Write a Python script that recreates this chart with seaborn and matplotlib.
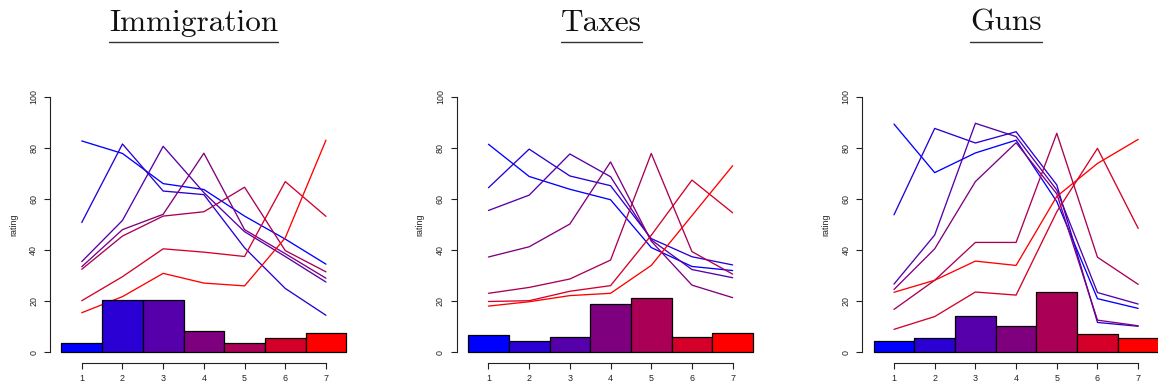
import numpy as np
import pandas as pd
import matplotlib
matplotlib.use("Agg")
import matplotlib.pyplot as plt
import seaborn as sns
from matplotlib.lines import Line2D

# Scale positions (1 = most liberal ... 7 = most conservative)
scale = [1, 2, 3, 4, 5, 6, 7]
groups = ['1', '2', '3', '4', '5', '6', '7']
colors = ['#0000FF', '#2A00D4', '#5500AA', '#7F007F', '#AA0055', '#D4002A', '#FF0000']
topics = ['Immigration', 'Taxes', 'Guns']

# Share of respondents at each position (bars)
imm_share = [3.7, 20.6, 20.6, 8.5, 3.7, 5.5, 7.7]
tax_share = [6.6, 4.3, 6.0, 18.8, 21.1, 6.0, 7.4]
gun_share = [4.3, 5.5, 14.1, 10.2, 23.7, 7.0, 5.5]

# Mean rating of each position, one row per group (lines)
imm_rating = [
    [82.7, 77.8, 66.0, 63.7, 53.3, 44.3, 34.5],
    [50.8, 81.5, 63.1, 61.7, 40.9, 25.0, 14.5],
    [35.5, 51.6, 80.6, 62.5, 47.2, 37.5, 27.5],
    [33.5, 48.0, 54.0, 77.9, 48.0, 38.6, 29.0],
    [32.5, 45.5, 53.3, 55.0, 64.6, 39.8, 31.5],
    [20.2, 29.6, 40.5, 39.2, 37.5, 66.8, 53.2],
    [15.5, 21.8, 30.9, 27.1, 26.0, 44.8, 83.0],
]
tax_rating = [
    [81.4, 68.8, 63.8, 59.7, 41.0, 33.6, 32.0],
    [64.4, 79.5, 69.0, 65.2, 44.5, 37.4, 34.2],
    [55.5, 61.5, 77.6, 68.7, 44.0, 32.4, 29.2],
    [37.3, 41.3, 50.2, 74.5, 43.5, 26.3, 21.4],
    [23.1, 25.4, 28.7, 36.1, 77.8, 39.4, 30.6],
    [19.9, 20.2, 23.9, 26.1, 45.8, 67.4, 54.6],
    [18.1, 19.8, 22.2, 23.1, 34.0, 53.5, 73.0],
]
gun_rating = [
    [89.3, 70.3, 78.0, 83.0, 59.0, 21.0, 17.2],
    [53.8, 87.6, 81.9, 86.3, 65.5, 11.7, 10.2],
    [26.7, 45.9, 89.6, 84.4, 63.5, 23.4, 18.9],
    [24.6, 40.5, 66.8, 82.0, 62.0, 12.6, 10.4],
    [16.8, 28.2, 43.0, 43.0, 85.7, 37.2, 26.6],
    [9.0, 14.0, 23.6, 22.4, 55.0, 79.8, 48.5],
    [23.5, 28.2, 35.7, 34.0, 61.0, 73.9, 83.3],
]

shares = [imm_share, tax_share, gun_share]
ratings = [imm_rating, tax_rating, gun_rating]
palette = dict(zip(groups, colors))

sns.set_style("ticks")
plt.rcParams['font.family'] = ['Liberation Sans', 'DejaVu Sans']

fig = plt.figure(figsize=(11.58, 3.88), dpi=100)

lefts = [0.0432, 0.3944, 0.7446]
title_x = [0.1671, 0.5190, 0.8690]

for k in range(3):
    ax = fig.add_axes([lefts[k], 0.0655, 0.2657, 0.7116])

    # long table for the lines
    rows = []
    for g, vals in zip(groups, ratings[k]):
        for x, v in zip(scale, vals):
            rows.append({'pos': x, 'rating': v, 'grp': g})
    line_df = pd.DataFrame(rows)
    sns.lineplot(data=line_df, x='pos', y='rating', hue='grp', palette=palette,
                 linewidth=0.95, legend=False, estimator=None, ax=ax)

    bar_df = pd.DataFrame({'pos': scale, 'share': shares[k], 'grp': groups})
    sns.barplot(data=bar_df, x='pos', y='share', hue='grp', palette=palette,
                native_scale=True, width=1, dodge=False, saturation=1,
                edgecolor='black', linewidth=0.9, errorbar=None, legend=False,
                zorder=3, ax=ax)

    # R-like axes
    ax.set_xlim(0.22, 7.78)
    ax.set_ylim(-4, 104)
    ax.set_xticks(scale)
    ax.set_xticklabels([str(s) for s in scale])
    ax.set_yticks([0, 20, 40, 60, 80, 100])
    ax.set_yticklabels(['0', '20', '40', '60', '80', '100'], rotation=90, va='center')
    sns.despine(ax=ax)
    ax.spines['left'].set_bounds(0, 100)
    ax.spines['bottom'].set_bounds(1, 7)
    for s in ['left', 'bottom']:
        ax.spines[s].set_linewidth(0.8)
        ax.spines[s].set_color('#222222')
    ax.tick_params(length=4, width=0.8, labelsize=6.4, pad=4.5, color='#222222',
                   labelcolor='#222222')
    ax.set_xlabel('')
    ax.set_ylabel('rating', fontsize=6.4, labelpad=8, color='#222222')

    # title with underline
    t = fig.text(title_x[k], 0.9209, topics[k], family='cmr10', fontsize=22.5,
                 ha='center', va='baseline', color='#111111')

fig.canvas.draw()
renderer = fig.canvas.get_renderer()
for t in fig.texts:
    bb = t.get_window_extent(renderer).transformed(fig.transFigure.inverted())
    fig.add_artist(Line2D([bb.x0, bb.x1], [0.8925, 0.8925], transform=fig.transFigure,
                          color='#333333', linewidth=1.0))

fig.savefig('out.png', dpi=100)
